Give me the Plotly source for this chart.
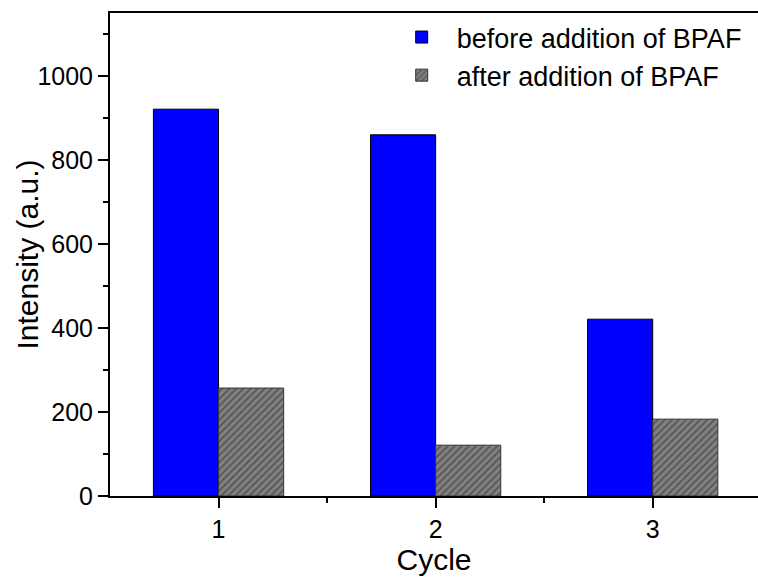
import plotly.graph_objects as go

cycles = [1, 2, 3]
before_vals = [921, 860, 421]
after_vals = [257, 121, 183]
series_names = ["before addition of BPAF", "after addition of BPAF"]
y_title = "Intensity (a.u.)"
x_title = "Cycle"

FONT = "Liberation Sans, Arial, sans-serif"

fig = go.Figure()
fig.add_trace(go.Bar(
    x=cycles, y=before_vals, name=series_names[0],
    marker=dict(color="#0000FF", line=dict(color="#000000", width=1)),
))
fig.add_trace(go.Bar(
    x=cycles, y=after_vals, name=series_names[1],
    marker=dict(color="#7f7f7f", line=dict(color="#333333", width=1),
                pattern=dict(shape="/", bgcolor="#808080", fgcolor="#222222",
                             size=5, solidity=0.3)),
))

fig.update_layout(
    width=758, height=579,
    margin=dict(l=110, r=0, t=13, b=83),
    paper_bgcolor="white", plot_bgcolor="white",
    barmode="group", bargap=0.4, bargroupgap=0,
    font=dict(family=FONT, color="#000000", size=25),
    showlegend=True,
    legend=dict(x=0.427, y=1.0, xanchor="left", yanchor="top",
                font=dict(size=27, family=FONT), bgcolor="rgba(0,0,0,0)",
                tracegroupgap=0, itemwidth=60),
    xaxis=dict(
        range=[0.5, 3.485], tickvals=cycles, ticktext=[str(c) for c in cycles],
        ticks="outside", ticklen=10, tickwidth=2, tickcolor="#000",
        showline=True, linecolor="#000", linewidth=2, mirror=True,
        showgrid=False, zeroline=False,
        minor=dict(tickvals=[1.5, 2.5], ticks="outside", ticklen=5, tickwidth=2, tickcolor="#000"),
        tickfont=dict(size=25),
        title=dict(text=x_title, font=dict(size=30), standoff=6),
    ),
    yaxis=dict(
        range=[0, 1150], dtick=200, tick0=0,
        ticks="outside", ticklen=10, tickwidth=2, tickcolor="#000",
        showline=True, linecolor="#000", linewidth=2, mirror=False,
        showgrid=False, zeroline=False,
        minor=dict(dtick=100, ticks="outside", ticklen=5, tickwidth=2, tickcolor="#000"),
        tickfont=dict(size=25),
    ),
    annotations=[dict(
        text=y_title, textangle=-90, xref="paper", yref="paper",
        x=-0.128, y=0.5, xanchor="center", yanchor="middle",
        showarrow=False, font=dict(size=30, family=FONT),
    )],
)

fig.write_html("out.html")
